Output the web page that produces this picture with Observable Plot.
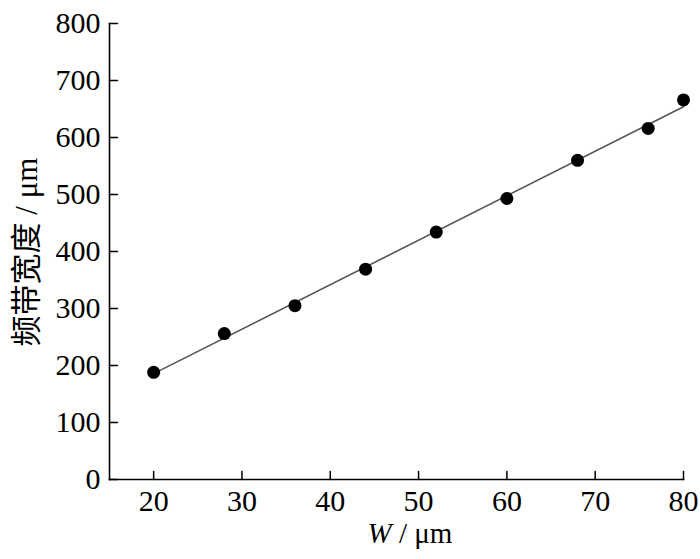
<!DOCTYPE html>
<html>
<head>
<meta charset="utf-8">
<script src="https://cdn.jsdelivr.net/npm/d3@7"></script>
<script src="https://cdn.jsdelivr.net/npm/@observablehq/plot@0.6"></script>
<style>
  html, body { margin: 0; padding: 0; background: #fff; }
  #chart svg { display: block; }
</style>
</head>
<body>
<div id="chart"></div>
<script>
const widths = [20, 28, 36, 44, 52, 60, 68, 76, 80];
const bandwidths = [188, 256, 305, 369, 434, 493, 560, 616, 666];
const xTicks = [20, 30, 40, 50, 60, 70, 80];
const yTicks = [0, 100, 200, 300, 400, 500, 600, 700, 800];
const yLabel = "频带宽度 / μm";
const xLabelVar = "W";
const xLabelUnit = " / μm";

const data = widths.map((w, i) => ({w, b: bandwidths[i]}));

const tickShape = {
  draw(context, l) { context.moveTo(0, 0); context.lineTo(0, -l); }
};

const font = "'Liberation Serif', 'Times New Roman', 'Noto Sans CJK SC', serif";

const plot = Plot.plot({
  width: 700,
  height: 559,
  marginLeft: 109,
  marginRight: 17,
  marginTop: 23,
  marginBottom: 80,
  style: {fontFamily: font, fontSize: "30px", color: "#000", background: "#fff"},
  x: {domain: [15, 80]},
  y: {domain: [0, 800]},
  marks: [
    Plot.axisX(xTicks, {tickSize: 0, tickPadding: 10, label: null, fontSize: 30}),
    Plot.axisY(yTicks, {tickSize: 0, tickPadding: 9, label: null, fontSize: 30}),
    Plot.vector(xTicks, {x: d => d, frameAnchor: "bottom", length: 8, rotate: 0, anchor: "start", shape: tickShape, stroke: "#000", strokeWidth: 1.5}),
    Plot.vector(yTicks, {y: d => d, frameAnchor: "left", length: 8, rotate: 90, anchor: "start", shape: tickShape, stroke: "#000", strokeWidth: 1.5}),
    Plot.frame({anchor: "left", stroke: "#000", strokeWidth: 1.6}),
    Plot.frame({anchor: "bottom", stroke: "#000", strokeWidth: 1.6}),
    Plot.linearRegressionY(data, {x: "w", y: "b", ci: 0, stroke: "#555", strokeWidth: 1.6}),
    Plot.dot(data, {x: "w", y: "b", r: 6.5, fill: "#000"})
  ]
});

const svg = d3.select(plot);
const xl = svg.append("text")
  .attr("x", 410).attr("y", 543)
  .attr("text-anchor", "middle")
  .attr("font-family", font)
  .attr("font-size", 29)
  .attr("fill", "#000");
xl.append("tspan").attr("font-style", "italic").text(xLabelVar);
xl.append("tspan").text(xLabelUnit);

svg.append("text")
  .attr("transform", "translate(37,252) rotate(-90)")
  .attr("text-anchor", "middle")
  .attr("font-family", font)
  .attr("font-size", 31)
  .attr("fill", "#000")
  .text(yLabel);

document.getElementById("chart").appendChild(plot);
</script>
</body>
</html>
